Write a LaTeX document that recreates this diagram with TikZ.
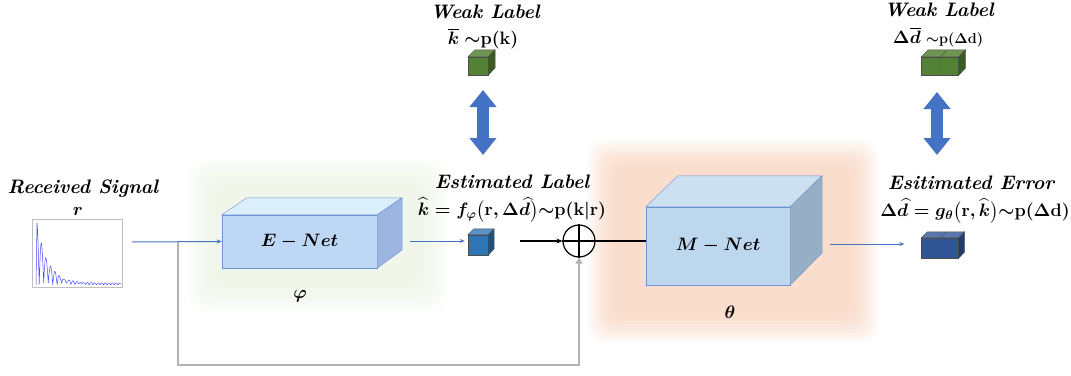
\RequirePackage{fix-cm}
\documentclass[tikz,border=0pt]{standalone}
\usepackage{amsmath,amssymb,bm}
\usetikzlibrary{arrows.meta}

\definecolor{netblue}{RGB}{189,215,245}
\definecolor{nettop}{RGB}{218,238,252}
\definecolor{netside}{RGB}{155,181,224}
\definecolor{netedge}{RGB}{110,146,214}
\definecolor{mfront}{RGB}{189,215,238}
\definecolor{mtop}{RGB}{205,224,242}
\definecolor{mside}{RGB}{151,175,196}
\definecolor{cubeblue}{RGB}{46,117,182}
\definecolor{cubedark}{RGB}{47,85,151}
\definecolor{cubegreen}{RGB}{84,130,53}
\definecolor{arrowblue}{RGB}{68,114,196}
\definecolor{glowgreen}{RGB}{222,236,208}
\definecolor{glowpeach}{RGB}{245,195,165}

\begin{document}
\begin{tikzpicture}[x=1pt, y=-1pt, % pixel-like coordinates, y pointing down
    lbl/.style={font=\fontsize{19.5}{22}\selectfont\bfseries\itshape, inner sep=0pt},
    formula/.style={font=\fontsize{18}{21}\selectfont\boldmath, inner sep=0pt},
    netfront/.style={draw=netedge, fill=netblue, inner sep=0pt, font=\fontsize{18}{21}\selectfont\boldmath},
    cubefront/.style={draw=black!70, inner sep=0pt},
    sigarrow/.style={-{Stealth[length=5pt,width=4pt]}, arrowblue, line width=1pt},
    fbline/.style={gray!60, line width=2.4pt},
    fatarrow/.style={arrowblue, line width=12pt, {Triangle[length=17pt,width=26pt]}-{Triangle[length=17pt,width=26pt]}}]

	% frame
	\useasboundingbox (0,0) rectangle (1071,375);
	
	% soft glow behind the two networks
	\foreach \i in {0,...,8}
		\fill[glowgreen, opacity=0.065, rounded corners=16] (188+\i*3,158+\i*3) rectangle (448-\i*3,312-\i*3);
	\foreach \i in {0,...,8}
		\fill[glowpeach, opacity=0.085, rounded corners=16] (588+\i*3,140+\i*3) rectangle (878-\i*3,342-\i*3);
	
	% received signal
	\node[lbl] (sigtitle) at (83,189) {Received Signal};
	\node[formula] (sigr) at (78,211) {$r$};
	\node[draw=gray!50, minimum width=90pt, minimum height=68pt, inner sep=0pt] (sigbox) at (77,253) {};
	\draw[blue!70, line width=0.5pt] (36,285) -- plot[domain=0:84, samples=300]
		({37+\x}, {285 - 60*exp(-\x/11)*abs(cos(\x*40)) - 2*abs(cos(\x*50))});
	
	% E-Net block
	\node[netfront, minimum width=155pt, minimum height=53pt] (enet) at (299.5,241.5) {$E-Net$};
	\fill[nettop, draw=netedge] (enet.north west) -- ++(25,-17) -- ++(155,0) -- (enet.north east) -- cycle;
	\fill[netside, draw=netedge] (enet.north east) -- ++(25,-17) -- ++(0,52) -- (enet.south east) -- cycle;
	\node[formula] (phi) at (300,296) {$\varphi$};
	
	% M-Net block
	\node[netfront, fill=mfront, minimum width=144pt, minimum height=78pt] (mnet) at (718,246) {$M-Net$};
	\fill[mtop, draw=netedge] (mnet.north west) -- ++(32,-31) -- ++(144,0) -- (mnet.north east) -- cycle;
	\fill[mside, draw=netedge] (mnet.north east) -- ++(32,-31) -- ++(0,77) -- (mnet.south east) -- cycle;
	\node[formula] (theta) at (730,312) {$\theta$};
	
	% estimated label cube
	\node[cubefront, fill=cubeblue, minimum width=20pt, minimum height=20pt] (kcube) at (478,245) {};
	\fill[cubeblue!80!white, draw=black!70] (kcube.north west) -- ++(6,-6) -- ++(20,0) -- (kcube.north east) -- cycle;
	\fill[cubeblue!70!black, draw=black!70] (kcube.north east) -- ++(6,-6) -- ++(0,20) -- (kcube.south east) -- cycle;
	\node[lbl] (esttitle) at (512,182) {Estimated Label};
	\node[formula] (estform) at (512,210) {$\widehat{k}=f_{\varphi}\big(\mathbf{r},\Delta\widehat{d}\big){\sim}\mathbf{p}(\mathbf{k}|\mathbf{r})$};
	
	% weak label k
	\node[cubefront, fill=cubegreen, minimum width=20pt, minimum height=18pt] (kweak) at (478,66) {};
	\fill[cubegreen!85!white, draw=black!70] (kweak.north west) -- ++(7,-7) -- ++(20,0) -- (kweak.north east) -- cycle;
	\fill[cubegreen!70!black, draw=black!70] (kweak.north east) -- ++(7,-7) -- ++(0,18) -- (kweak.south east) -- cycle;
	\node[lbl] (wktitle) at (485,12) {Weak Label};
	\node[formula] (wkform) at (483,39) {$\overline{k}$ ${\sim}\mathbf{p}(\mathbf{k})$};
	
	% estimated error cubes
	\node[cubefront, fill=cubedark, minimum width=37pt, minimum height=20pt] (dcube) at (940,248) {};
	\fill[cubedark!80!white, draw=black!70] (dcube.north west) -- ++(6,-6) -- ++(37,0) -- (dcube.north east) -- cycle;
	\fill[cubedark!70!black, draw=black!70] (dcube.north east) -- ++(6,-6) -- ++(0,20) -- (dcube.south east) -- cycle;
	\draw[black!70] (dcube.north) -- ++(6,-6) (dcube.north) -- (dcube.south);
	\node[lbl] (errtitle) at (971,183) {Esitimated Error};
	\node[formula] (errform) at (975,211) {$\Delta\widehat{d}=g_{\theta}\big(\mathbf{r},\widehat{k}\big){\sim}\mathbf{p}(\Delta\mathbf{d})$};
	
	% weak label d
	\node[cubefront, fill=cubegreen, minimum width=37pt, minimum height=18pt] (dweak) at (940,66) {};
	\fill[cubegreen!85!white, draw=black!70] (dweak.north west) -- ++(7,-7) -- ++(37,0) -- (dweak.north east) -- cycle;
	\fill[cubegreen!70!black, draw=black!70] (dweak.north east) -- ++(7,-7) -- ++(0,18) -- (dweak.south east) -- cycle;
	\draw[black!70] (dweak.north) -- ++(7,-7) (dweak.north) -- (dweak.south);
	\node[lbl] (wdtitle) at (939,10) {Weak Label};
	\node[formula] (wdform) at (938,37) {$\Delta\overline{d}$ {\fontsize{14.4}{17}\selectfont${\sim}\mathbf{p}(\Delta\mathbf{d})$}};
	
	% sum junction
	\node[draw, circle, line width=1.2pt, minimum size=32pt, inner sep=0pt] (sum) at (579,241) {};
	\draw[line width=1.2pt] (sum.north) -- (sum.south) (sum.west) -- (sum.east);
	
	% connectors
	\coordinate (sigstart) at (132,242);
	\coordinate (split) at (178,242);
	\coordinate (fbot) at (579,365);
	\coordinate (eout) at (410,241);
	\coordinate (kout) at (520,241);
	\coordinate (mout) at (830,244);
	\draw[sigarrow] (sigstart) -- (enet.west);
	\draw[fbline, -{Triangle[length=6pt,width=7pt]}] (split) |- (fbot) -- (sum.south);
	\draw[sigarrow, line width=0.8pt] (eout) -- ([xshift=-3pt]kcube.west |- eout);
	\draw[-{Stealth[length=6pt,width=5pt]}, line width=1.3pt] (kout) -- (sum.west);
	\draw[line width=1.3pt] (sum.east) -- (sum.east -| mnet.west);
	\draw[sigarrow, line width=0.8pt] (mout) -- ([xshift=-17pt]dcube.west |- mout);
	
	% weak supervision arrows
	\coordinate (ktop) at (483,90);
	\coordinate (kbot) at (483,155);
	\coordinate (dtop) at (937,92);
	\coordinate (dbot) at (937,155);
	\draw[fatarrow] (ktop) -- (kbot);
	\draw[fatarrow] (dtop) -- (dbot);
\end{tikzpicture}
\end{document}
